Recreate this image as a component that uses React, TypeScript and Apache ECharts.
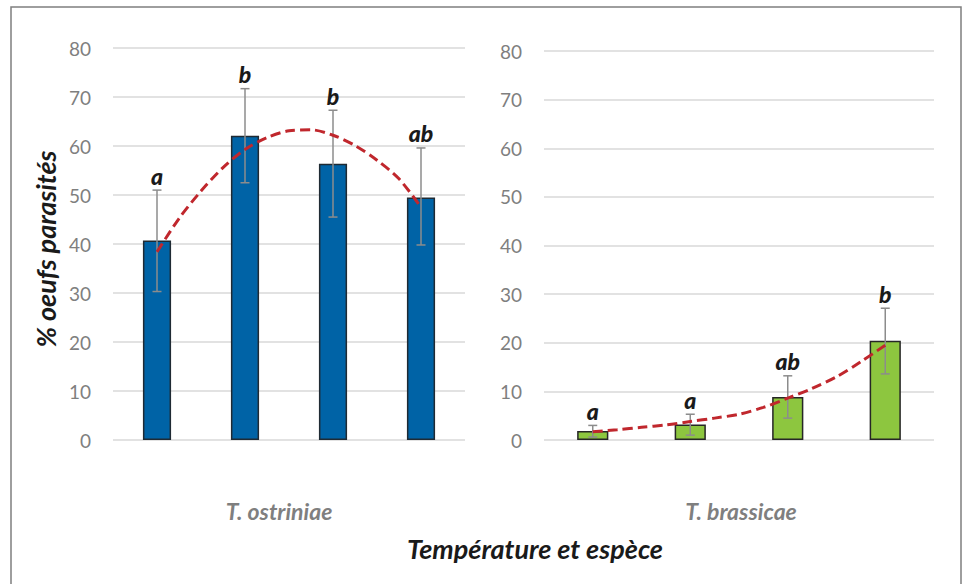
import React, { useEffect, useRef } from "react";
import * as echarts from "echarts";

// ---- data ----
const categories = ["1", "2", "3", "4"];
const species = ["T. ostriniae", "T. brassicae"];
const yTicks = [0, 80, 10]; // min, max, interval

const ostriniaeMeans = [40.7, 62.1, 56.4, 49.5];
const ostriniaeLow = [30.3, 52.5, 45.5, 39.8];
const ostriniaeHigh = [51.0, 71.7, 67.3, 59.6];
const ostriniaeLetters = ["a", "b", "b", "ab"];
const ostriniaeTrend = [
  [1, 38.4], [1.25, 45.2], [1.5, 50.8], [1.75, 55.6], [2, 59.3], [2.25, 61.7],
  [2.5, 63.1], [2.75, 63.3], [3, 62.2], [3.25, 60.1], [3.5, 57.1], [3.75, 53.3], [4, 47.5],
];

const brassicaeMeans = [1.85, 3.2, 8.85, 20.4];
const brassicaeLow = [0.6, 1.0, 4.5, 13.6];
const brassicaeHigh = [3.0, 5.3, 13.2, 27.1];
const brassicaeLetters = ["a", "a", "ab", "b"];
const brassicaeTrend = [
  [1, 1.7], [1.25, 2.1], [1.5, 2.6], [1.75, 3.1], [2, 3.8], [2.25, 4.5], [2.5, 5.3],
  [2.75, 6.7], [3, 8.6], [3.25, 10.6], [3.5, 13.0], [3.75, 16.1], [4, 19.5],
];

const yTitle = "% oeufs parasités";
const xTitle = "Température et espèce";

const FONT = "Lato, 'Open Sans', sans-serif";

function errorSeries(xIdx: number, yIdx: number, low: number[], high: number[], letters: string[]) {
  return {
    type: "custom",
    xAxisIndex: xIdx,
    yAxisIndex: yIdx,
    z: 5,
    data: low.map((l, i) => [i, l, high[i]]),
    renderItem: (params: any, api: any) => {
      const lo = api.coord([api.value(0), api.value(1)]);
      const hi = api.coord([api.value(0), api.value(2)]);
      const cap = 4.5;
      const stroke = { stroke: "#8c8c8c", lineWidth: 1.5 };
      return {
        type: "group",
        children: [
          { type: "line", shape: { x1: lo[0], y1: lo[1], x2: hi[0], y2: hi[1] }, style: stroke },
          { type: "line", shape: { x1: hi[0] - cap, y1: hi[1], x2: hi[0] + cap, y2: hi[1] }, style: stroke },
          { type: "line", shape: { x1: lo[0] - cap, y1: lo[1], x2: lo[0] + cap, y2: lo[1] }, style: stroke },
          {
            type: "text",
            x: hi[0],
            y: hi[1] - 3,
            style: {
              text: letters[params.dataIndex],
              fill: "#1a1a1a",
              fontSize: 23,
              fontWeight: 900,
              fontStyle: "italic",
              fontFamily: FONT,
              align: "center",
              verticalAlign: "bottom",
            },
          },
        ],
      };
    },
  };
}

export default function App() {
  const ref = useRef<HTMLDivElement>(null);
  useEffect(() => {
    document.body.style.margin = "0";
    const chart = echarts.init(ref.current!, null, { renderer: "svg" });
    const yAxisBase = {
      type: "value",
      min: yTicks[0],
      max: yTicks[1],
      interval: yTicks[2],
      axisLine: { show: false },
      axisTick: { show: false },
      axisLabel: { color: "#7f7f7f", fontSize: 19, fontFamily: FONT, margin: 22 },
      splitLine: { lineStyle: { color: "#d9d9d9", width: 1.5 } },
    };
    const catAxis = (g: number) => ({
      type: "category",
      gridIndex: g,
      data: categories,
      axisLine: { show: false },
      axisTick: { show: false },
      axisLabel: { show: false },
    });
    const valX = (g: number) => ({ type: "value", gridIndex: g, min: 0.5, max: 4.5, show: false });
    const trendStyle = { color: "#c0272d", width: 3, type: [10, 5] };
    const labelStyle = (text: string, size: number, color: string) => ({
      text,
      fill: color,
      fontSize: size,
      fontWeight: "bold",
      fontStyle: "italic",
      fontFamily: FONT,
      align: "center",
      verticalAlign: "middle",
    });
    const option: any = {
      animation: false,
      backgroundColor: "#ffffff",
      grid: [
        { left: 113, right: 962 - 465, top: 48, bottom: 584 - 440 },
        { left: 544, right: 962 - 934, top: 51, bottom: 584 - 440 },
      ],
      xAxis: [catAxis(0), catAxis(1), valX(0), valX(1)],
      yAxis: [
        { ...yAxisBase, gridIndex: 0 },
        { ...yAxisBase, gridIndex: 1 },
      ],
      series: [
        {
          type: "bar",
          xAxisIndex: 0,
          yAxisIndex: 0,
          data: ostriniaeMeans,
          barWidth: "32%",
          itemStyle: { color: "#0063a6", borderColor: "#1f2a33", borderWidth: 1.5 },
        },
        {
          type: "bar",
          xAxisIndex: 1,
          yAxisIndex: 1,
          data: brassicaeMeans,
          barWidth: "32%",
          itemStyle: { color: "#8dc63f", borderColor: "#262626", borderWidth: 1.5 },
        },
        errorSeries(0, 0, ostriniaeLow, ostriniaeHigh, ostriniaeLetters),
        errorSeries(1, 1, brassicaeLow, brassicaeHigh, brassicaeLetters),
        {
          type: "line",
          xAxisIndex: 2,
          yAxisIndex: 0,
          data: ostriniaeTrend,
          smooth: 0.3,
          symbol: "none",
          z: 6,
          lineStyle: trendStyle,
        },
        {
          type: "line",
          xAxisIndex: 3,
          yAxisIndex: 1,
          data: brassicaeTrend,
          smooth: 0.3,
          symbol: "none",
          z: 6,
          lineStyle: trendStyle,
        },
      ],
      graphic: [
        {
          type: "rect",
          shape: { x: 11, y: 7, width: 950, height: 620 },
          style: { fill: "none", stroke: "#7f7f7f", lineWidth: 1.5 },
          silent: true,
        },
        { type: "text", x: 279, y: 511, style: labelStyle(species[0], 23, "#7f7f7f") },
        { type: "text", x: 741, y: 511, style: labelStyle(species[1], 23, "#7f7f7f") },
        { type: "text", x: 535, y: 548, style: labelStyle(xTitle, 27, "#1a1a1a") },
        {
          type: "text",
          x: 45,
          y: 249,
          rotation: Math.PI / 2,
          style: labelStyle(yTitle, 27, "#1a1a1a"),
        },
      ],
    };
    chart.setOption(option);
    return () => chart.dispose();
  }, []);
  return <div ref={ref} style={{ width: 962, height: 584 }} />;
}
